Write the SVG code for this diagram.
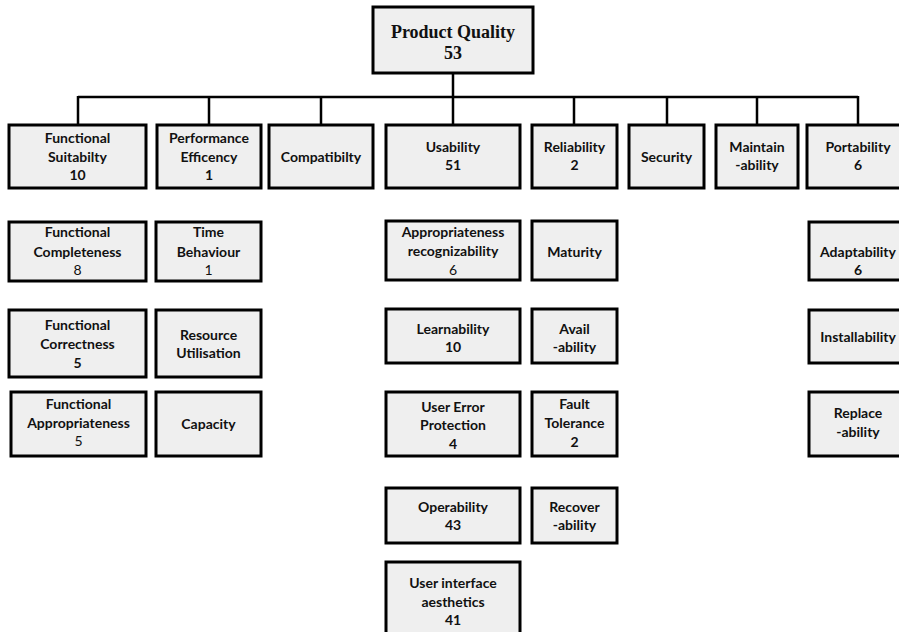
<svg xmlns="http://www.w3.org/2000/svg" width="899" height="632" viewBox="0 0 899 632">
<style>
.box{fill:#efefef;stroke:#000;stroke-width:3}
.t{font-family:Lato,"Open Sans","Liberation Sans",sans-serif;font-size:14px;font-weight:bold;text-anchor:middle;fill:#111}
.n{font-weight:normal}
.r{font-family:"Liberation Serif",serif;font-size:18px;font-weight:bold;text-anchor:middle;fill:#111}
.c{fill:none;stroke:#000;stroke-width:2.5}
</style>
<rect width="899" height="632" fill="#fff"/>
<g id="connectors">
<path class="c" d="M453 73V97M78 97H858M78 96V125M209 96V125M321 96V125M453 96V125M574 96V125M667 96V125M757 96V125M858 96V125"/>
</g>
<g id="product-quality"><rect class="box" x="373" y="7" width="160" height="66"/><text class="r" x="453" y="38">Product Quality</text><text class="r" x="453" y="59">53</text></g>

<g id="functional-suitability"><rect class="box" x="9" y="125" width="137" height="63"/><text class="t" x="77.5" y="143">Functional</text><text class="t" x="77.5" y="162">Suitabilty</text><text class="t" x="77.5" y="180">10</text></g>
<g id="performance-efficiency"><rect class="box" x="157" y="125" width="104" height="63"/><text class="t" x="209" y="143">Performance</text><text class="t" x="209" y="162">Efficency</text><text class="t" x="209" y="180">1</text></g>
<g id="compatibility"><rect class="box" x="269" y="125" width="104" height="63"/><text class="t" x="321" y="162">Compatibilty</text></g>
<g id="usability"><rect class="box" x="386" y="125" width="134" height="63"/><text class="t" x="453" y="152">Usability</text><text class="t" x="453" y="170">51</text></g>
<g id="reliability"><rect class="box" x="532" y="125" width="85" height="63"/><text class="t" x="574.5" y="152">Reliability</text><text class="t" x="574.5" y="170">2</text></g>
<g id="security"><rect class="box" x="629" y="125" width="75" height="63"/><text class="t" x="666.5" y="162">Security</text></g>
<g id="maintainability"><rect class="box" x="716" y="125" width="82" height="63"/><text class="t" x="757" y="152">Maintain</text><text class="t" x="757" y="170">-ability</text></g>
<g id="portability"><rect class="box" x="807" y="125" width="102" height="63"/><text class="t" x="858" y="152">Portability</text><text class="t" x="858" y="170">6</text></g>

<g id="functional-completeness"><rect class="box" x="9" y="222" width="137" height="59"/><text class="t" x="77.5" y="237">Functional</text><text class="t" x="77.5" y="257">Completeness</text><text class="t n" x="77.5" y="275">8</text></g>
<g id="functional-correctness"><rect class="box" x="9" y="310" width="137" height="67"/><text class="t" x="77.5" y="330">Functional</text><text class="t" x="77.5" y="349">Correctness</text><text class="t" x="77.5" y="368">5</text></g>
<g id="functional-appropriateness"><rect class="box" x="11" y="392" width="135" height="64"/><text class="t" x="78.5" y="409">Functional</text><text class="t" x="78.5" y="428">Appropriateness</text><text class="t n" x="78.5" y="446">5</text></g>

<g id="time-behaviour"><rect class="box" x="156" y="222" width="105" height="59"/><text class="t" x="208.5" y="237">Time</text><text class="t" x="208.5" y="257">Behaviour</text><text class="t n" x="208.5" y="275">1</text></g>
<g id="resource-utilisation"><rect class="box" x="156" y="310" width="105" height="67"/><text class="t" x="208.5" y="340">Resource</text><text class="t" x="208.5" y="358">Utilisation</text></g>
<g id="capacity"><rect class="box" x="156" y="392" width="105" height="64"/><text class="t" x="208.5" y="429">Capacity</text></g>

<g id="appropriateness-recognizability"><rect class="box" x="386" y="221" width="134" height="59"/><text class="t" x="453" y="237">Appropriateness</text><text class="t" x="453" y="256">recognizability</text><text class="t n" x="453" y="275">6</text></g>
<g id="learnability"><rect class="box" x="386" y="309" width="134" height="54"/><text class="t" x="453" y="334">Learnability</text><text class="t" x="453" y="352">10</text></g>
<g id="user-error-protection"><rect class="box" x="386" y="392" width="134" height="64"/><text class="t" x="453" y="412">User Error</text><text class="t" x="453" y="430">Protection</text><text class="t" x="453" y="449">4</text></g>
<g id="operability"><rect class="box" x="386" y="488" width="134" height="55"/><text class="t" x="453" y="512">Operability</text><text class="t" x="453" y="530">43</text></g>
<g id="user-interface-aesthetics"><rect class="box" x="386" y="562" width="134" height="80"/><text class="t" x="453" y="588">User interface</text><text class="t" x="453" y="607">aesthetics</text><text class="t" x="453" y="625">41</text></g>

<g id="maturity"><rect class="box" x="532" y="221" width="85" height="59"/><text class="t" x="574.5" y="257">Maturity</text></g>
<g id="availability"><rect class="box" x="532" y="309" width="85" height="54"/><text class="t" x="574.5" y="334">Avail</text><text class="t" x="574.5" y="352">-ability</text></g>
<g id="fault-tolerance"><rect class="box" x="532" y="392" width="85" height="64"/><text class="t" x="574.5" y="409">Fault</text><text class="t" x="574.5" y="428">Tolerance</text><text class="t" x="574.5" y="447">2</text></g>
<g id="recoverability"><rect class="box" x="532" y="488" width="85" height="55"/><text class="t" x="574.5" y="512">Recover</text><text class="t" x="574.5" y="530">-ability</text></g>

<g id="adaptability"><rect class="box" x="809" y="222" width="100" height="58"/><text class="t" x="858" y="257">Adaptability</text><text class="t" x="858" y="275">6</text></g>
<g id="installability"><rect class="box" x="809" y="310" width="100" height="53"/><text class="t" x="858" y="342">Installability</text></g>
<g id="replaceability"><rect class="box" x="809" y="392" width="100" height="64"/><text class="t" x="858" y="418">Replace</text><text class="t" x="858" y="437">-ability</text></g>
</svg>
